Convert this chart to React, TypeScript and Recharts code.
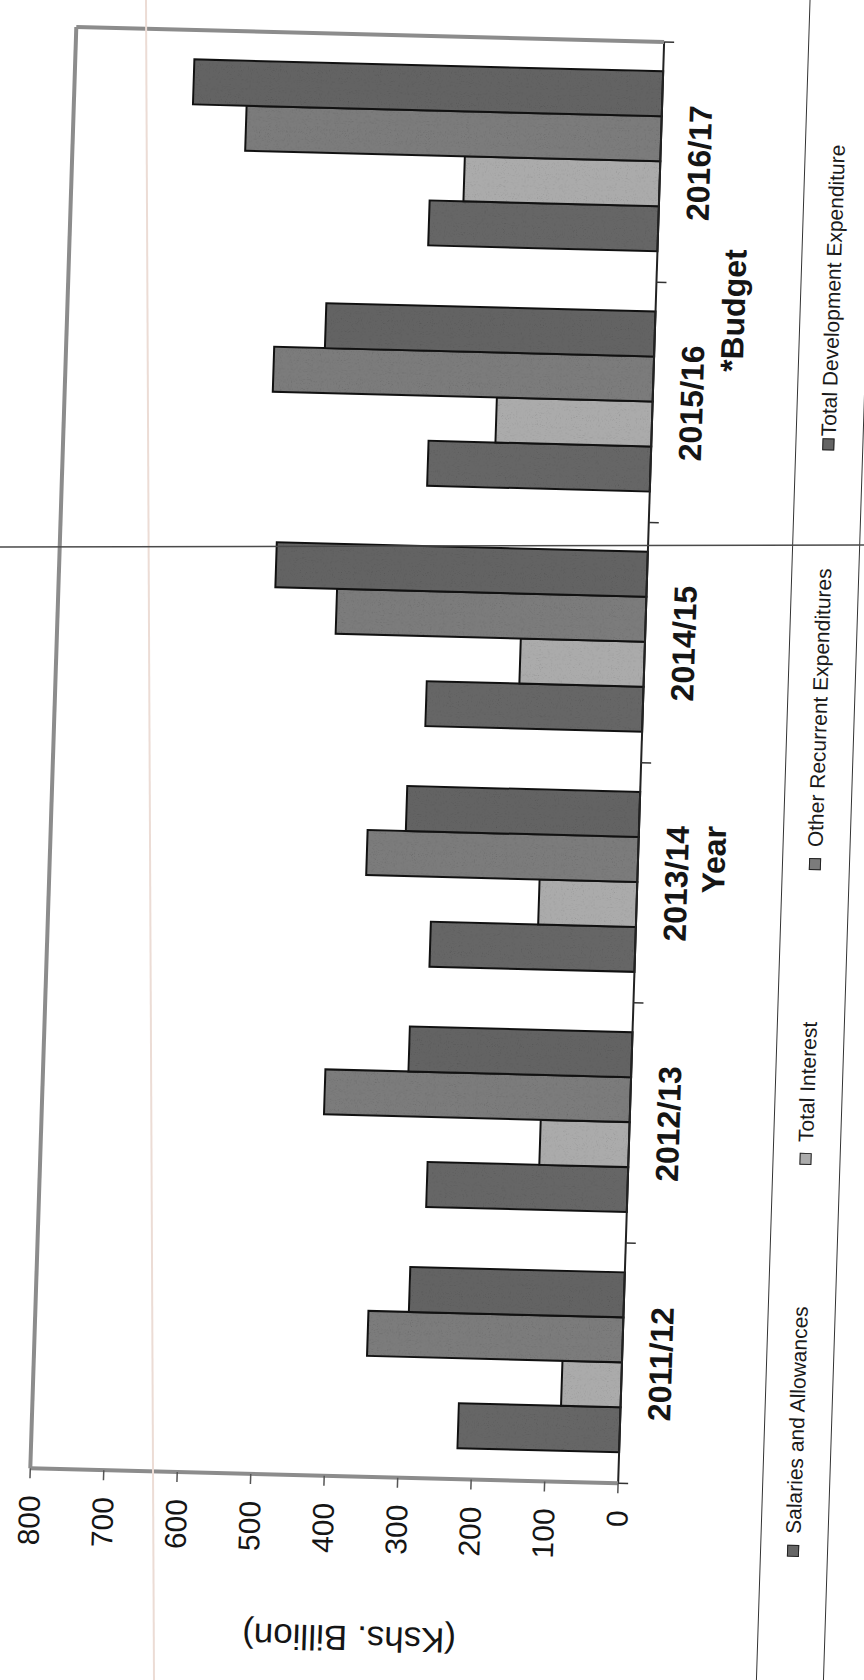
import React from 'react';
import { Bar, BarChart, XAxis, YAxis } from 'recharts';

// values in Kshs. Billion
const YEARS = ['2011/12', '2012/13', '2013/14', '2014/15', '2015/16', '2016/17'];
const SALARIES = [220, 273, 279, 295, 303, 312];
const INTEREST = [81, 121, 133, 169, 212, 266];
const OTHER_RECURRENT = [347, 416, 369, 421, 517, 565];
const DEVELOPMENT = [292, 303, 317, 505, 448, 638];
const YEAR_NOTES = ['', '', '', '', '*Budget', ''];
const VALUE_TICKS = [0, 100, 200, 300, 400, 500, 600, 700, 800];

const SERIES = [
  { key: 'salaries', name: 'Salaries and Allowances', values: SALARIES, fill: '#666666' },
  { key: 'interest', name: 'Total Interest', values: INTEREST, fill: '#ababab' },
  { key: 'other', name: 'Other Recurrent Expenditures', values: OTHER_RECURRENT, fill: '#7b7b7b' },
  { key: 'development', name: 'Total Development Expenditure', values: DEVELOPMENT, fill: '#636363' },
];

const DATA = YEARS.map((year, i) => {
  const row: Record<string, string | number> = { year };
  SERIES.forEach((s) => { row[s.key] = s.values[i]; });
  return row;
});

const FONT = "'Liberation Sans', Arial, Helvetica, sans-serif";

// the chart is drawn upright, then turned onto its side like the scan
const CW = 1732;
const CH = 900;
const PL = 230;
const PT = 40;
const PW = 1442;
const PH = 588;
const BAND = PW / YEARS.length;
const MA = 0.0319;
const MB = -0.9995;
const MC = 0.9997;
const MD = 0.0255;
const ME = 30.3 - MA * PL - MC * PT;
const MF = 1468.3 - MB * PL - MD * PT;

// legend marker centres along the category direction, relative to the plot start
const LEGEND_U = [-64, 328, 623, 1043];

function YearTick(props: any) {
  const { x, y, payload } = props;
  const idx = typeof props.index === 'number' ? props.index : YEARS.indexOf(payload.value);
  const half = BAND / 2;
  const note = YEAR_NOTES[idx];
  return (
    <g>
      <line x1={x - half} y1={y} x2={x - half} y2={y + 10} stroke="#333" strokeWidth={1.5} />
      {idx === YEARS.length - 1 && (
        <line x1={x + half} y1={y} x2={x + half} y2={y + 10} stroke="#333" strokeWidth={1.5} />
      )}
      <text x={x} y={y + 39} textAnchor="middle" dominantBaseline="central"
        fontFamily={FONT} fontSize={32} fontWeight={700} fill="#151515">
        {payload.value}
      </text>
      {note && (
        <text x={x + BAND * 0.39} y={y + 78} textAnchor="middle" dominantBaseline="central"
          fontFamily={FONT} fontSize={32} fontWeight={700} fill="#151515">
          {note}
        </text>
      )}
    </g>
  );
}

function YearTitle(props: any) {
  const vb = props.viewBox || { x: PL, y: PT + PH, width: PW, height: 100 };
  return (
    <text x={vb.x + vb.width * 0.434} y={vb.y + 76} textAnchor="middle" dominantBaseline="central"
      fontFamily={FONT} fontSize={32} fontWeight={700} fill="#151515">
      Year
    </text>
  );
}

function ValueTitle(props: any) {
  const vb = props.viewBox || { x: PL - 130, y: PT, width: 130, height: PH };
  const cx = vb.x + vb.width - 162;
  const cy = vb.y + 324;
  return (
    <text x={cx} y={cy} transform={`rotate(-90, ${cx}, ${cy})`} textAnchor="middle"
      dominantBaseline="central" fontFamily={FONT} fontSize={35} fill="#151515">
      (Kshs. Billion)
    </text>
  );
}

// speckled print look: grain inside the fill, crisp outline on top
function GrainBar(props: any) {
  const { x, y, width, height, fill } = props;
  if (!width || !height) return null;
  return (
    <g>
      <rect x={x} y={y} width={width} height={height} fill={fill} filter="url(#grain)" />
      <rect x={x} y={y} width={width} height={height} fill="none" stroke="#111" strokeWidth={2} />
    </g>
  );
}

export default function App() {
  return (
    <div style={{ position: 'absolute', left: 0, top: 0, width: 864, height: 1680, overflow: 'hidden', background: '#fff' }}>
      <div
        style={{
          position: 'absolute', left: 0, top: 0, width: CW, height: CH,
          transformOrigin: '0 0',
          transform: `matrix(${MA}, ${MB}, ${MC}, ${MD}, ${ME}, ${MF})`,
        }}
      >
        <BarChart width={CW} height={CH} data={DATA} barCategoryGap={31} barGap={0}
          margin={{ top: PT - 1, left: PL - 130, right: CW - PL - PW - 1, bottom: CH - PT - PH - 100 }}>
          <defs>
            <filter id="grain" x="0" y="0" width="100%" height="100%">
              <feTurbulence type="fractalNoise" baseFrequency="0.9" numOctaves="2" seed="7" result="noise" />
              <feColorMatrix in="noise" type="saturate" values="0" result="gray" />
              <feComponentTransfer in="gray" result="shade">
                <feFuncR type="linear" slope="1.1" intercept="0.5" />
                <feFuncG type="linear" slope="1.1" intercept="0.5" />
                <feFuncB type="linear" slope="1.1" intercept="0.5" />
                <feFuncA type="linear" slope="0" intercept="1" />
              </feComponentTransfer>
              <feBlend in="SourceGraphic" in2="shade" mode="multiply" result="mixed" />
              <feComposite in="mixed" in2="SourceGraphic" operator="in" />
            </filter>
          </defs>
          <XAxis dataKey="year" height={100} interval={0} tickLine={false} tickSize={0} tickMargin={0}
            axisLine={{ stroke: '#222', strokeWidth: 2 }} tick={YearTick} label={YearTitle} />
          <XAxis xAxisId="top" orientation="top" dataKey="year" height={1} tick={false} tickLine={false}
            axisLine={{ stroke: '#8c8c8c', strokeWidth: 4 }} />
          <YAxis domain={[0, 800]} ticks={VALUE_TICKS} interval={0} width={130} tickSize={10} tickMargin={17}
            axisLine={{ stroke: '#8c8c8c', strokeWidth: 4 }} tickLine={{ stroke: '#555', strokeWidth: 1.5 }}
            tick={{ fontSize: 30, fill: '#151515', fontFamily: FONT }} label={ValueTitle} />
          <YAxis yAxisId="right" orientation="right" domain={[0, 800]} width={1} tick={false} tickLine={false}
            axisLine={{ stroke: '#8c8c8c', strokeWidth: 4 }} />
          {SERIES.map((s) => (
            <Bar key={s.key} dataKey={s.key} name={s.name} fill={s.fill} shape={GrainBar}
              isAnimationActive={false} />
          ))}
        </BarChart>
        <div style={{
          position: 'absolute', left: PL - 250, top: PT + 732, width: 1742, height: 68,
          border: '1.5px solid #333', boxSizing: 'border-box',
        }}>
          {SERIES.map((s, i) => (
            <div key={s.key} style={{
              position: 'absolute', left: LEGEND_U[i] + 250 - 6, top: 20, height: 24,
              display: 'flex', alignItems: 'center', whiteSpace: 'nowrap',
              fontFamily: FONT, fontSize: 21, color: '#1a1a1a',
            }}>
              <span style={{ width: 10, height: 10, border: '1.5px solid #222', background: s.fill, marginRight: i === 3 ? 2 : 11 }} />
              {s.name}
            </div>
          ))}
        </div>
      </div>
      <svg width={864} height={1680} style={{ position: 'absolute', left: 0, top: 0, pointerEvents: 'none' }}>
        <line x1={146} y1={0} x2={154} y2={1680} stroke="#ecdcd5" strokeWidth={2} />
        <line x1={0} y1={547} x2={864} y2={545} stroke="#4a4a4a" strokeWidth={1.5} />
      </svg>
    </div>
  );
}
